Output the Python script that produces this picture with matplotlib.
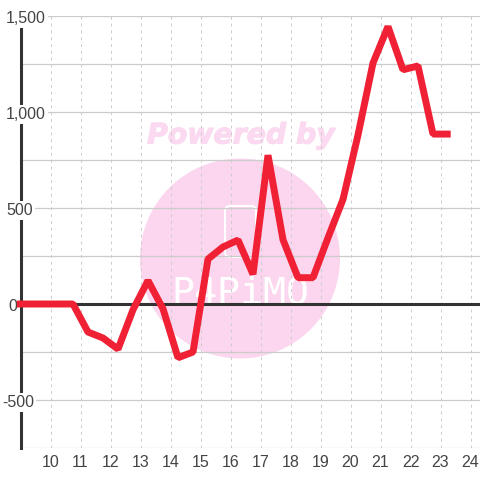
import matplotlib
matplotlib.use("Agg")
import matplotlib.pyplot as plt
import matplotlib.patheffects as pe
from matplotlib.patches import Circle, FancyBboxPatch
from matplotlib.transforms import IdentityTransform

hours = [8.88, 10.75, 11.25, 11.75, 12.25, 12.75, 13.25, 13.75, 14.25, 14.75,
         15.25, 15.75, 16.25, 16.75, 17.25, 17.75, 18.25, 18.75, 19.25, 19.75,
         20.25, 20.75, 21.25, 21.75, 22.25, 22.75, 23.34]
values = [0, 0, -146, -177, -235, -30, 122, -25, -280, -250,
          234, 297, 333, 155, 775, 335, 137, 137, 345, 545,
          880, 1255, 1445, 1220, 1240, 885, 885]
x_ticks = list(range(10, 25))
y_grid = [-750, -500, -250, 0, 250, 500, 750, 1000, 1250, 1500]
y_labels = {1500: ("1,500", 6), 1000: ("1,000", 6), 500: ("500", 6), 0: ("0", 8), -500: ("-500", 2)}

plt.rcParams["font.family"] = ["Liberation Sans", "DejaVu Sans"]

fig = plt.figure(figsize=(4.8, 4.8), dpi=100)
ax = fig.add_axes([20.5 / 480, 32 / 480, 459.5 / 480, 432 / 480])
ax.set_xlim(9, 9 + 459.5 / 30)
ax.set_ylim(-750, 1500)

for s in ax.spines.values():
  s.set_visible(False)

ax.set_axisbelow(True)
ax.set_yticks(y_grid)
ax.set_xticks(x_ticks)
ax.set_yticklabels([])
ax.tick_params(axis="both", length=0)
ax.tick_params(axis="x", labelsize=11.5, labelcolor="#444444", pad=5)
ax.grid(True, axis="y", color="#cccccc", linewidth=0.9)
ax.grid(True, axis="x", color="#cccccc", linewidth=0.7, linestyle=(0, (3, 4)))

# watermark sits under the grid
px = IdentityTransform()
ax.add_patch(Circle((240, 480 - 258.5), 100, color="#fbd6ee", linewidth=0, transform=px, zorder=0.1, clip_on=False))
ax.add_patch(FancyBboxPatch((225, 480 - 257), 31, 51, boxstyle="round,pad=0,rounding_size=5", facecolor="none",
                            edgecolor="white", linewidth=1.5, transform=px, zorder=0.2))
wm = ax.text(241, 480 - 135.5, "Powered by", transform=px, family="DejaVu Sans", weight="bold", style="italic",
             fontsize=20.4, color="#fbd9f0", ha="center", va="center",
             path_effects=[pe.withStroke(linewidth=0.8, foreground="#fbd9f0")])
wm.set_zorder(0.2)
wm2 = ax.text(240, 480 - 304, "P4PiMO", transform=px, family="DejaVu Sans Mono", fontsize=27.5,
              color="white", ha="center", va="baseline")
wm2.set_zorder(0.2)

ax.axvline(9, color="#333333", linewidth=2.2, zorder=2, clip_on=False)
ax.axhline(0, color="#333333", linewidth=2.2, zorder=2)

for v, (label, left) in y_labels.items():
  ax.annotate(label, xy=(left, v), xycoords=("figure pixels", "data"), xytext=(0, -1.5), textcoords="offset points",
              fontsize=11.5, color="#444444", ha="left", va="center", annotation_clip=False, zorder=3,
              bbox=dict(facecolor="white", edgecolor="none", pad=1.5))

ax.plot(hours, values, color="#f02035", linewidth=5, solid_joinstyle="bevel", solid_capstyle="butt",
        clip_on=False, zorder=4)

fig.savefig("out.png", dpi=100)
